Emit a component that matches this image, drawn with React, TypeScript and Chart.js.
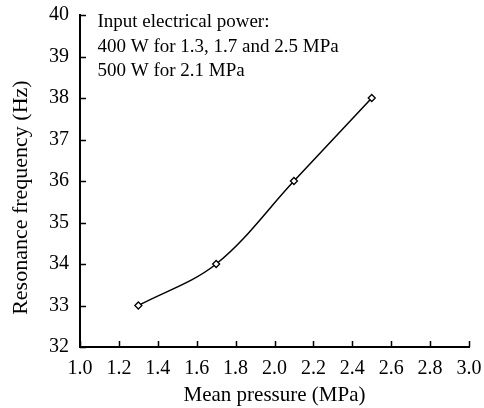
import React, { useEffect, useRef } from "react";
import { Chart, registerables } from "chart.js";

Chart.register(...registerables);

const pressures = [1.3, 1.7, 2.1, 2.5];
const frequencies = [33, 34, 36, 38];
const noteLines = [
  "Input electrical power:",
  "400 W for 1.3, 1.7 and 2.5 MPa",
  "500 W for 2.1 MPa",
];
const xTitle = "Mean pressure (MPa)";
const yTitle = "Resonance frequency (Hz)";

const FONT = "'Liberation Serif', 'Times New Roman', serif";

const inwardTicks = {
  id: "inwardTicks",
  afterDraw(chart: any) {
    const ctx = chart.ctx;
    const xs = chart.scales.x;
    const ys = chart.scales.y;
    const area = chart.chartArea;
    ctx.save();
    ctx.strokeStyle = "#000";
    ctx.lineWidth = 1.5;
    ctx.beginPath();
    xs.ticks.forEach((t: any) => {
      const px = Math.round(xs.getPixelForValue(t.value)) + 0.5;
      ctx.moveTo(px, area.bottom);
      ctx.lineTo(px, area.bottom - 6);
    });
    ys.ticks.forEach((t: any) => {
      const py = Math.round(ys.getPixelForValue(t.value)) + 0.5;
      ctx.moveTo(area.left, py);
      ctx.lineTo(area.left + 6, py);
    });
    ctx.stroke();

    // annotation text
    ctx.fillStyle = "#000";
    ctx.font = `19px ${FONT}`;
    ctx.textBaseline = "middle";
    ctx.textAlign = "left";
    const x0 = xs.getPixelForValue(1.09);
    const yTop = ys.getPixelForValue(39.82);
    const step = ys.getPixelForValue(39.82) - ys.getPixelForValue(40.41);
    noteLines.forEach((line, i) => {
      ctx.fillText(line, x0, yTop + i * step);
    });

    // y axis title (slightly below the plot centre, as in the original)
    ctx.font = `22px ${FONT}`;
    ctx.textAlign = "center";
    ctx.textBaseline = "middle";
    ctx.translate(ys.left + 21, ys.getPixelForValue(35.6));
    ctx.rotate(-Math.PI / 2);
    ctx.fillText(yTitle, 0, 0);
    ctx.restore();
  },
};

export default function App() {
  const canvasRef = useRef<HTMLCanvasElement | null>(null);

  useEffect(() => {
    if (!canvasRef.current) return;
    const chart = new Chart(canvasRef.current, {
      type: "line",
      data: {
        datasets: [
          {
            data: pressures.map((p, i) => ({ x: p, y: frequencies[i] })),
            borderColor: "#000",
            borderWidth: 1.5,
            tension: 0.35,
            pointStyle: "rectRot",
            pointRadius: 3.5,
            pointBackgroundColor: "#fff",
            pointBorderColor: "#000",
            pointBorderWidth: 1.3,
            fill: false,
          },
        ],
      },
      options: {
        animation: false,
        responsive: false,
        maintainAspectRatio: false,
        layout: { padding: { top: 15, right: 15, left: 0, bottom: 0 } },
        plugins: {
          legend: { display: false },
          tooltip: { enabled: false },
        },
        scales: {
          x: {
            type: "linear",
            min: 1.0,
            max: 3.0,
            ticks: {
              stepSize: 0.2,
              color: "#000",
              padding: 10,
              maxRotation: 0,
              font: { family: FONT, size: 20 },
              callback: (v: any) => Number(v).toFixed(1),
            },
            grid: { display: true, drawOnChartArea: false, drawTicks: false },
            border: { display: true, color: "#000", width: 2 },
            title: {
              display: true,
              text: xTitle,
              color: "#000",
              font: { family: FONT, size: 21 },
              padding: { top: 0, bottom: 0 },
            },
            afterFit: (s: any) => {
              s.height = 61;
              s.paddingLeft = 0;
              s.paddingRight = 0;
            },
          },
          y: {
            type: "linear",
            min: 32,
            max: 40,
            ticks: {
              stepSize: 1,
              color: "#000",
              padding: 11,
              font: { family: FONT, size: 20 },
            },
            grid: { display: true, drawOnChartArea: false, drawTicks: false },
            border: { display: true, color: "#000", width: 2 },
            title: { display: false },
            afterFit: (s: any) => {
              s.width = 80;
              s.paddingTop = 0;
              s.paddingBottom = 0;
            },
          },
        },
      },
      plugins: [inwardTicks],
    });
    return () => chart.destroy();
  }, []);

  return (
    <div style={{ position: "fixed", left: 0, top: 0, width: 484, height: 408, background: "#fff" }}>
      <canvas ref={canvasRef} width={484} height={408} />
    </div>
  );
}
